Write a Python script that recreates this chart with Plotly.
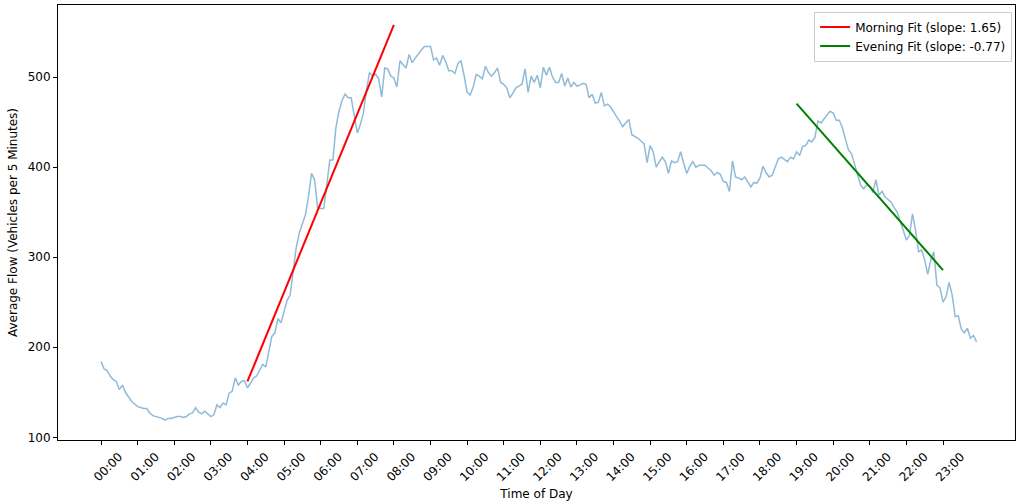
import numpy as np
import plotly.graph_objects as go

# ---- data (average flow per 5-minute slot, 00:00 .. 23:55) ----
flow_h00 = [184, 176, 174, 168, 164, 162, 153, 158, 150, 145, 140, 137]
flow_h01 = [134, 133, 132, 132, 127, 124, 123, 122, 121, 119, 121, 121]
flow_h02 = [122, 123, 123, 122, 123, 126, 127, 133, 128, 126, 129, 126]
flow_h03 = [123, 125, 136, 133, 138, 136, 149, 151, 166, 158, 162, 163]
flow_h04 = [155, 160, 166, 168, 175, 181, 178, 195, 212, 216, 232, 227]
flow_h05 = [240, 252, 258, 285, 311, 327, 337, 347, 367, 393, 386, 355]
flow_h06 = [354, 354, 380, 408, 408, 444, 462, 474, 481, 477, 477, 456]
flow_h07 = [438, 447, 460, 485, 505, 501, 503, 498, 478, 510, 509, 501]
flow_h08 = [499, 489, 518, 514, 510, 525, 516, 521, 526, 530, 534, 534]
flow_h09 = [534, 519, 521, 513, 524, 517, 507, 507, 504, 515, 518, 502]
flow_h10 = [483, 480, 489, 503, 501, 498, 512, 505, 501, 505, 510, 494]
flow_h11 = [492, 488, 477, 482, 488, 490, 492, 509, 483, 501, 494, 502]
flow_h12 = [488, 511, 502, 511, 500, 494, 494, 504, 490, 499, 489, 494]
flow_h13 = [490, 491, 493, 492, 477, 481, 471, 472, 483, 468, 470, 467]
flow_h14 = [461, 456, 451, 445, 449, 453, 436, 434, 432, 429, 426, 405]
flow_h15 = [424, 417, 400, 406, 411, 406, 393, 407, 405, 406, 417, 404]
flow_h16 = [393, 401, 406, 400, 402, 402, 402, 399, 396, 391, 394, 392]
flow_h17 = [384, 383, 373, 407, 389, 388, 386, 389, 384, 378, 383, 382]
flow_h18 = [388, 401, 394, 389, 391, 400, 409, 411, 408, 406, 411, 409]
flow_h19 = [417, 413, 423, 424, 430, 428, 433, 451, 449, 454, 458, 462]
flow_h20 = [460, 452, 452, 444, 432, 419, 415, 404, 391, 380, 376, 380]
flow_h21 = [379, 372, 386, 369, 373, 367, 364, 361, 355, 350, 340, 328]
flow_h22 = [319, 324, 348, 330, 306, 308, 297, 281, 297, 306, 269, 266]
flow_h23 = [250, 256, 272, 258, 234, 235, 220, 216, 221, 210, 213, 206]

flow = (flow_h00 + flow_h01 + flow_h02 + flow_h03 + flow_h04 + flow_h05 +
        flow_h06 + flow_h07 + flow_h08 + flow_h09 + flow_h10 + flow_h11 +
        flow_h12 + flow_h13 + flow_h14 + flow_h15 + flow_h16 + flow_h17 +
        flow_h18 + flow_h19 + flow_h20 + flow_h21 + flow_h22 + flow_h23)
minutes = [5 * i for i in range(len(flow))]

# fitted lines (slope in vehicles per minute)
morning_window = [240, 480]      # 04:00 - 08:00
morning_slope = 1.65
morning_start_value = 162
evening_window = [1140, 1380]    # 19:00 - 23:00
evening_slope = -0.77
evening_start_value = 470.5

tick_minutes = [60 * h for h in range(24)]
tick_labels = [f"{h:02d}:00" for h in range(24)]

morning_y = [morning_start_value + morning_slope * (t - morning_window[0]) for t in morning_window]
evening_y = [evening_start_value + evening_slope * (t - evening_window[0]) for t in evening_window]

FONT = "DejaVu Sans"
FS = 12

fig = go.Figure()
fig.add_trace(go.Scatter(x=minutes, y=flow, mode="lines",
                         line=dict(color="rgba(31,119,180,0.5)", width=1.5),
                         showlegend=False, hoverinfo="x+y"))
fig.add_trace(go.Scatter(x=morning_window, y=morning_y, mode="lines",
                         line=dict(color="red", width=2),
                         name=f"Morning Fit (slope: {morning_slope:.2f})"))
fig.add_trace(go.Scatter(x=evening_window, y=evening_y, mode="lines",
                         line=dict(color="green", width=2),
                         name=f"Evening Fit (slope: {evening_slope:.2f})"))

fig.update_layout(
    width=1016, height=504,
    margin=dict(l=58, r=1, t=5, b=64),
    paper_bgcolor="white", plot_bgcolor="white",
    font=dict(family=FONT, size=FS, color="black"),
    legend=dict(x=0.997, y=0.985, xanchor="right", yanchor="top",
                bgcolor="rgba(255,255,255,0.8)", bordercolor="#cccccc", borderwidth=1,
                font=dict(size=FS), tracegroupgap=0, itemwidth=30),
    xaxis=dict(range=[-70.5, 1498], tickmode="array", tickvals=tick_minutes,
               ticktext=tick_labels, tickangle=-45, ticklabelshift=18,
               showgrid=False, zeroline=False, showline=True, mirror=True,
               linecolor="black", linewidth=1, ticks="outside", ticklen=4,
               tickcolor="black", automargin=False,
               title=dict(text="Time of Day", standoff=6, font=dict(size=FS))),
    yaxis=dict(range=[97, 580], tickmode="array", tickvals=[100, 200, 300, 400, 500],
               showgrid=False, zeroline=False, showline=True, mirror=True,
               linecolor="black", linewidth=1, ticks="outside", ticklen=4,
               tickcolor="black", automargin=False,
               title=dict(text="Average Flow (Vehicles per 5 Minutes)", standoff=7,
                          font=dict(size=FS))),
)

fig.write_html("out.html", config={"displayModeBar": False},
               post_script="document.body.style.margin='0';document.body.style.padding='0';")
